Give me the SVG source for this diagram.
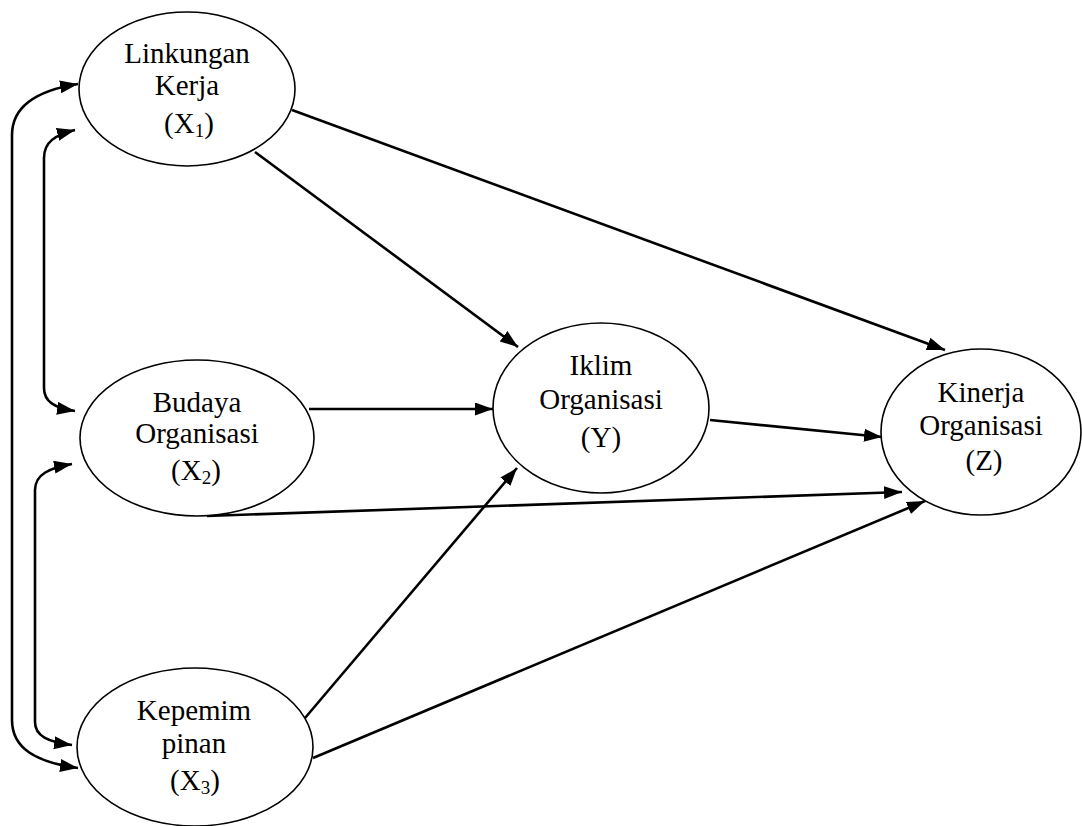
<svg xmlns="http://www.w3.org/2000/svg" width="1082" height="826" viewBox="0 0 1082 826">
<style>
.node ellipse{fill:#fff;stroke:#000;stroke-width:1.6}
.node text{font-family:"Liberation Serif","Times New Roman",serif;font-size:29px;fill:#000;text-anchor:middle}
.sub{font-size:19px}
.edge{fill:none;stroke:#000;stroke-width:2.6}
</style>
<defs>
<marker id="ah" markerUnits="userSpaceOnUse" markerWidth="20" markerHeight="14" refX="18" refY="6.5" orient="auto-start-reverse" viewBox="0 0 20 14">
<path d="M0,0 L18,6.5 L0,13 z" fill="#000"/>
</marker>
</defs>
<rect width="1082" height="826" fill="#fff"/>
<g id="connectors">
<path class="edge" d="M292,110 L945,350" marker-end="url(#ah)"/>
<path class="edge" d="M255,152 L518,347" marker-end="url(#ah)"/>
<path class="edge" d="M309,409 L493,409" marker-end="url(#ah)"/>
<path class="edge" d="M710,420 L882,437" marker-end="url(#ah)"/>
<path class="edge" d="M207,516 L902,492" marker-end="url(#ah)"/>
<path class="edge" d="M305,718 L517,468" marker-end="url(#ah)"/>
<path class="edge" d="M313,758 L925,501" marker-end="url(#ah)"/>
<path class="edge" d="M78,84 C40,90 12,105 12,135 L12,720 C12,748 35,762 78,768" marker-start="url(#ah)" marker-end="url(#ah)"/>
<path class="edge" d="M75,130 C55,135 44,142 44,158 L44,388 C44,402 55,408 75,411" marker-start="url(#ah)" marker-end="url(#ah)"/>
<path class="edge" d="M72,464 C50,468 35,474 35,490 L35,722 C35,736 48,742 72,745" marker-start="url(#ah)" marker-end="url(#ah)"/>
</g>
<g id="X1" class="node">
<ellipse cx="187" cy="89" rx="108" ry="77"/>
<text x="187" y="63">Linkungan</text>
<text x="187" y="95">Kerja</text>
<text x="189" y="133">(X<tspan class="sub" dy="4">1</tspan><tspan dy="-4">)</tspan></text>
</g>
<g id="X2" class="node">
<ellipse cx="197" cy="438" rx="117" ry="78"/>
<text x="197" y="412">Budaya</text>
<text x="197" y="443">Organisasi</text>
<text x="196" y="480">(X<tspan class="sub" dy="4">2</tspan><tspan dy="-4">)</tspan></text>
</g>
<g id="X3" class="node">
<ellipse cx="195" cy="747" rx="118" ry="79"/>
<text x="194" y="720">Kepemim</text>
<text x="194" y="753">pinan</text>
<text x="195" y="790">(X<tspan class="sub" dy="4">3</tspan><tspan dy="-4">)</tspan></text>
</g>
<g id="Y" class="node">
<ellipse cx="601" cy="408" rx="108" ry="85"/>
<text x="601" y="375">Iklim</text>
<text x="601" y="409">Organisasi</text>
<text x="601" y="447">(Y)</text>
</g>
<g id="Z" class="node">
<ellipse cx="981" cy="432" rx="100" ry="83"/>
<text x="981" y="402">Kinerja</text>
<text x="981" y="435">Organisasi</text>
<text x="984" y="470">(Z)</text>
</g>
</svg>
